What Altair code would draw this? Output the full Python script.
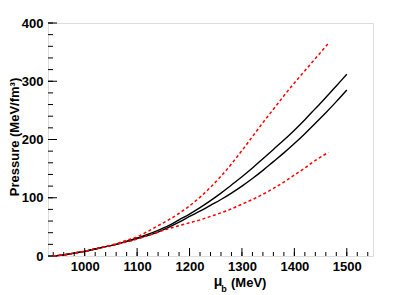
import altair as alt
import pandas as pd

# ---- data ----
x_black = [940, 960, 980, 1000, 1020, 1040, 1060, 1080, 1100, 1120, 1140, 1160, 1180, 1200,
           1220, 1240, 1260, 1280, 1300, 1320, 1340, 1360, 1380, 1400, 1420, 1440, 1460, 1480, 1500]
black_upper = [0, 2, 5, 8, 12, 16, 20, 25, 31, 37, 44, 52, 62, 72,
               83, 95, 108, 122, 136, 151, 167, 183, 199, 216, 234, 253, 272, 292, 312]
black_lower = [0, 2, 5, 8, 12, 16, 20, 25, 30, 35, 41, 49, 58, 68,
               77, 87, 97, 108, 120, 133, 147, 162, 177, 193, 210, 228, 246, 265, 285]

x_red = [940, 960, 980, 1000, 1020, 1040, 1060, 1080, 1100, 1120, 1140, 1160, 1180, 1200,
         1220, 1240, 1260, 1280, 1300, 1320, 1340, 1360, 1380, 1400, 1420, 1440, 1465]
red_upper = [0, 2, 5, 8, 12, 16, 21, 27, 33, 42, 52, 62, 73, 86,
             101, 118, 137, 158, 181, 205, 229, 252, 275, 297, 318, 339, 365]
red_lower = [0, 2, 5, 8, 12, 16, 20, 24, 29, 35, 41, 47, 52, 57,
             62, 68, 74, 81, 89, 97, 106, 116, 127, 139, 151, 164, 178]

x_ticks_major = [1000, 1100, 1200, 1300, 1400, 1500]
x_ticks_minor = list(range(940, 1550, 20))
y_ticks_major = [0, 100, 200, 300, 400]
y_ticks_minor = list(range(0, 401, 20))

X_DOMAIN = [930, 1550]
Y_DOMAIN = [0, 400]
W, H = 325, 233
FONT = "Liberation Sans"

rows = []
for name, xs_, ys_ in [("bu", x_black, black_upper), ("bl", x_black, black_lower),
                       ("ru", x_red, red_upper), ("rl", x_red, red_lower)]:
    for xv, yv in zip(xs_, ys_):
        rows.append({"series": name, "mu": xv, "P": yv})
df = pd.DataFrame(rows)

xs = alt.Scale(domain=X_DOMAIN, nice=False, zero=False)
ys = alt.Scale(domain=Y_DOMAIN, nice=False, zero=False)

xaxis = alt.Axis(values=x_ticks_major, ticks=False, domain=False, grid=False, title=None, format="d",
                 labelFont=FONT, labelFontWeight="bold", labelFontSize=13, labelColor="black",
                 labelPadding=4)
yaxis = alt.Axis(values=y_ticks_major, ticks=False, domain=False, grid=False, title=None, format="d",
                 labelFont=FONT, labelFontWeight="bold", labelFontSize=13, labelColor="black",
                 labelPadding=5)

black = alt.Chart(df).transform_filter(alt.FieldOneOfPredicate(field="series", oneOf=["bu", "bl"])).mark_line(
    color="black", strokeWidth=1.4, interpolate="monotone").encode(
    x=alt.X("mu:Q", scale=xs, axis=xaxis),
    y=alt.Y("P:Q", scale=ys, axis=yaxis),
    detail="series:N")

red = alt.Chart(df).transform_filter(alt.FieldOneOfPredicate(field="series", oneOf=["ru", "rl"])).mark_line(
    color="#ff0000", strokeWidth=1.5, strokeDash=[3, 2.5], interpolate="monotone").encode(
    x=alt.X("mu:Q", scale=xs),
    y=alt.Y("P:Q", scale=ys),
    detail="series:N")

xt_major = alt.Chart(pd.DataFrame({"t": x_ticks_major})).mark_rule(color="black", strokeWidth=1).encode(
    x=alt.X("t:Q", scale=xs), y=alt.value(H), y2=alt.value(H - 8))
xt_minor = alt.Chart(pd.DataFrame({"t": x_ticks_minor})).mark_rule(color="black", strokeWidth=1).encode(
    x=alt.X("t:Q", scale=xs), y=alt.value(H), y2=alt.value(H - 4))
yt_major = alt.Chart(pd.DataFrame({"t": y_ticks_major})).mark_rule(color="black", strokeWidth=1).encode(
    y=alt.Y("t:Q", scale=ys), x=alt.value(0), x2=alt.value(9))
yt_minor = alt.Chart(pd.DataFrame({"t": y_ticks_minor})).mark_rule(color="black", strokeWidth=1).encode(
    y=alt.Y("t:Q", scale=ys), x=alt.value(0), x2=alt.value(5))

lab = pd.DataFrame({"a": [1]})
mu_txt = alt.Chart(lab).mark_text(font=FONT, fontSize=14, fontWeight="bold", color="black",
                                   align="center", baseline="alphabetic").encode(
    x=alt.value(170), y=alt.value(263), text=alt.value("μ"))
b_txt = alt.Chart(lab).mark_text(font=FONT, fontSize=9, fontWeight="bold", color="black",
                                  align="center", baseline="alphabetic").encode(
    x=alt.value(176), y=alt.value(269), text=alt.value("b"))
mev_txt = alt.Chart(lab).mark_text(font=FONT, fontSize=13, fontWeight="bold", color="black",
                                    align="left", baseline="alphabetic").encode(
    x=alt.value(183), y=alt.value(264), text=alt.value("(MeV)"))
ytitle = alt.Chart(lab).mark_text(font=FONT, fontSize=13, fontWeight="bold", color="black",
                                   align="center", baseline="middle", angle=270).encode(
    x=alt.value(-33), y=alt.value(114), text=alt.value("Pressure (MeV/fm³)"))

chart = alt.layer(yt_minor, yt_major, xt_minor, xt_major, black, red,
                  mu_txt, b_txt, mev_txt, ytitle).properties(
    width=W, height=H,
    autosize=alt.AutoSizeParams(type="none"),
    padding={"left": 40, "top": 15, "right": 26, "bottom": 38},
).configure_view(stroke="black", strokeWidth=1).configure(background="white")

chart.save("out.html", embed_options={"renderer": "svg", "actions": False})
